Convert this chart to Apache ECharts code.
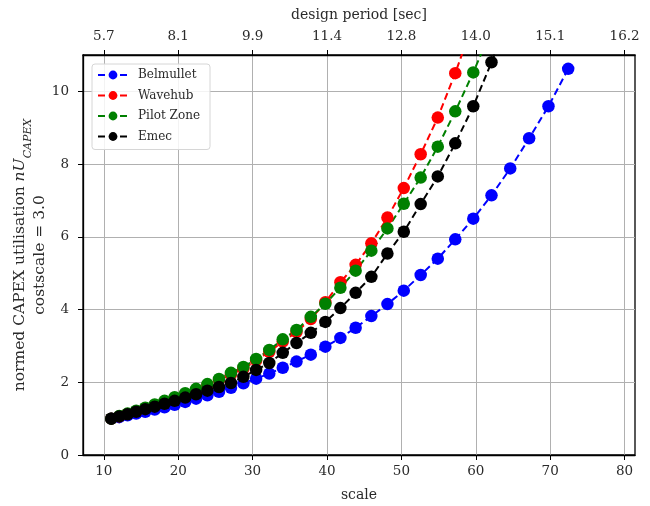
<!DOCTYPE html>
<html>
<head>
<meta charset="utf-8">
<script src="https://cdn.jsdelivr.net/npm/echarts@6/dist/echarts.min.js"></script>
<style>
  html, body { margin: 0; padding: 0; background: #fff; }
  #chart { width: 650px; height: 506px; }
</style>
</head>
<body>
<div id="chart"></div>
<script>
// scale values (x)
var scales = [11.0, 12.07, 13.19, 14.35, 15.57, 16.84, 18.16, 19.52, 20.94, 22.40,
  23.92, 25.48, 27.09, 28.76, 30.47, 32.24, 34.05, 35.90, 37.82, 39.78,
  41.80, 43.85, 45.96, 48.12, 50.32, 52.59, 54.89, 57.24, 59.66, 62.11,
  64.63, 67.17, 69.77, 72.42];

var belmullet = [1.00, 1.04, 1.09, 1.14, 1.19, 1.25, 1.31, 1.38, 1.46, 1.55,
  1.64, 1.74, 1.85, 1.97, 2.10, 2.24, 2.40, 2.57, 2.76, 2.98,
  3.22, 3.50, 3.82, 4.15, 4.52, 4.95, 5.40, 5.93, 6.50, 7.14,
  7.88, 8.71, 9.59, 10.62];

var wavehub = [1.00, 1.06, 1.13, 1.20, 1.28, 1.37, 1.46, 1.56, 1.67, 1.78,
  1.91, 2.06, 2.22, 2.37, 2.60, 2.84, 3.12, 3.38, 3.74, 4.20,
  4.75, 5.23, 5.82, 6.53, 7.34, 8.27, 9.28, 10.50, 11.90];

var pilotZone = [1.00, 1.07, 1.14, 1.22, 1.30, 1.39, 1.49, 1.59, 1.70, 1.82,
  1.95, 2.09, 2.26, 2.42, 2.64, 2.89, 3.18, 3.44, 3.80, 4.16,
  4.60, 5.07, 5.62, 6.23, 6.91, 7.63, 8.48, 9.45, 10.52, 11.70];

var emec = [1.00, 1.06, 1.12, 1.19, 1.26, 1.33, 1.41, 1.49, 1.58, 1.67,
  1.77, 1.87, 1.98, 2.15, 2.34, 2.53, 2.81, 3.08, 3.36, 3.66,
  4.04, 4.46, 4.90, 5.54, 6.14, 6.90, 7.66, 8.57, 9.59, 10.80,
  12.10];

var scaleTicks = [10, 20, 30, 40, 50, 60, 70, 80];
var periodLabels = ['5.7', '8.1', '9.9', '11.4', '12.8', '14.0', '15.1', '16.2'];
var yTicks = [0, 2, 4, 6, 8, 10];

var FONT = 'DejaVu Serif';
var TXT = '#2a2a2a';

function pairs(ys) {
  var out = [];
  for (var i = 0; i < ys.length; i++) {
    out.push([scales[i], ys[i]]);
  }
  return out;
}

function makeSeries(name, color, ys) {
  return {
    name: name,
    type: 'line',
    data: pairs(ys),
    clip: true,
    symbol: 'circle',
    symbolSize: 12.5,
    itemStyle: { color: color },
    lineStyle: { color: color, width: 2, type: [7, 4] },
    emphasis: { disabled: true },
    animation: false
  };
}

var chart = echarts.init(document.getElementById('chart'));

var option = {
  backgroundColor: '#fff',
  textStyle: { fontFamily: FONT },
  grid: {
    left: 83, right: 15, top: 55, bottom: 51,
    outerBoundsMode: 'none', containLabel: false,
    show: true, borderColor: '#000', borderWidth: 1.3, backgroundColor: 'transparent'
  },
  legend: {
    left: 92, top: 64, orient: 'vertical',
    itemWidth: 30, itemHeight: 11, itemGap: 8.5,
    padding: [5, 10, 7, 5],
    backgroundColor: 'rgba(255,255,255,0.85)',
    borderColor: '#d6d6d6', borderWidth: 1, borderRadius: 3,
    textStyle: { fontFamily: FONT, fontSize: 12, color: TXT, padding: [0, 0, 0, 5] },
    data: ['Belmullet', 'Wavehub', 'Pilot Zone', 'Emec']
  },
  xAxis: [{
    type: 'value', position: 'bottom',
    min: 7.2, max: 81.4,
    name: 'scale', nameLocation: 'middle', nameGap: 33, nameMoveOverlap: false,
    nameTextStyle: { fontFamily: FONT, fontSize: 14, color: TXT },
    axisLine: { show: true, lineStyle: { color: '#000', width: 1.3 } },
    axisTick: { show: true, inside: false, length: 5, customValues: scaleTicks, lineStyle: { color: '#000' } },
    axisLabel: { customValues: scaleTicks, fontFamily: FONT, fontSize: 13.5, color: TXT, margin: 9 },
    splitLine: { show: true, lineStyle: { color: '#b0b0b0', width: 1 } }
  }, {
    type: 'value', position: 'top',
    min: 7.2, max: 81.4,
    name: 'design period [sec]', nameLocation: 'middle', nameGap: 33, nameMoveOverlap: false,
    nameTextStyle: { fontFamily: FONT, fontSize: 14, color: TXT },
    axisLine: { show: true, lineStyle: { color: '#000', width: 1.3 } },
    axisTick: { show: true, inside: false, length: 5, customValues: scaleTicks, lineStyle: { color: '#000' } },
    axisLabel: {
      customValues: scaleTicks, fontFamily: FONT, fontSize: 13.5, color: TXT, margin: 12,
      formatter: function (v) {
        var i = scaleTicks.indexOf(Math.round(v));
        return i >= 0 ? periodLabels[i] : '';
      }
    },
    splitLine: { show: false }
  }],
  yAxis: {
    type: 'value', min: 0, max: 11,
    name: 'normed CAPEX utilisation {it|nU}{sub|CAPEX}\ncostscale = 3.0',
    nameLocation: 'middle', nameGap: 33, nameRotate: 90, nameMoveOverlap: false,
    nameTextStyle: {
      fontFamily: FONT, fontSize: 15.5, color: TXT, lineHeight: 20,
      rich: {
        it: { fontFamily: FONT, fontStyle: 'italic', fontSize: 15.5, color: TXT },
        sub: { fontFamily: FONT, fontStyle: 'italic', fontSize: 11, color: TXT, verticalAlign: 'bottom', padding: [0, 0, -4, 0] }
      }
    },
    axisLine: { show: true, lineStyle: { color: '#000', width: 1.3 } },
    axisTick: { show: true, inside: false, length: 5, customValues: yTicks, lineStyle: { color: '#000' } },
    axisLabel: { customValues: yTicks, fontFamily: FONT, fontSize: 13.5, color: TXT, margin: 14 },
    splitLine: { show: true, lineStyle: { color: '#b0b0b0', width: 1 } }
  },
  series: [
    makeSeries('Belmullet', '#0000ff', belmullet),
    makeSeries('Wavehub', '#ff0000', wavehub),
    makeSeries('Pilot Zone', '#008000', pilotZone),
    makeSeries('Emec', '#000000', emec)
  ]
};

chart.setOption(option);
</script>
</body>
</html>
